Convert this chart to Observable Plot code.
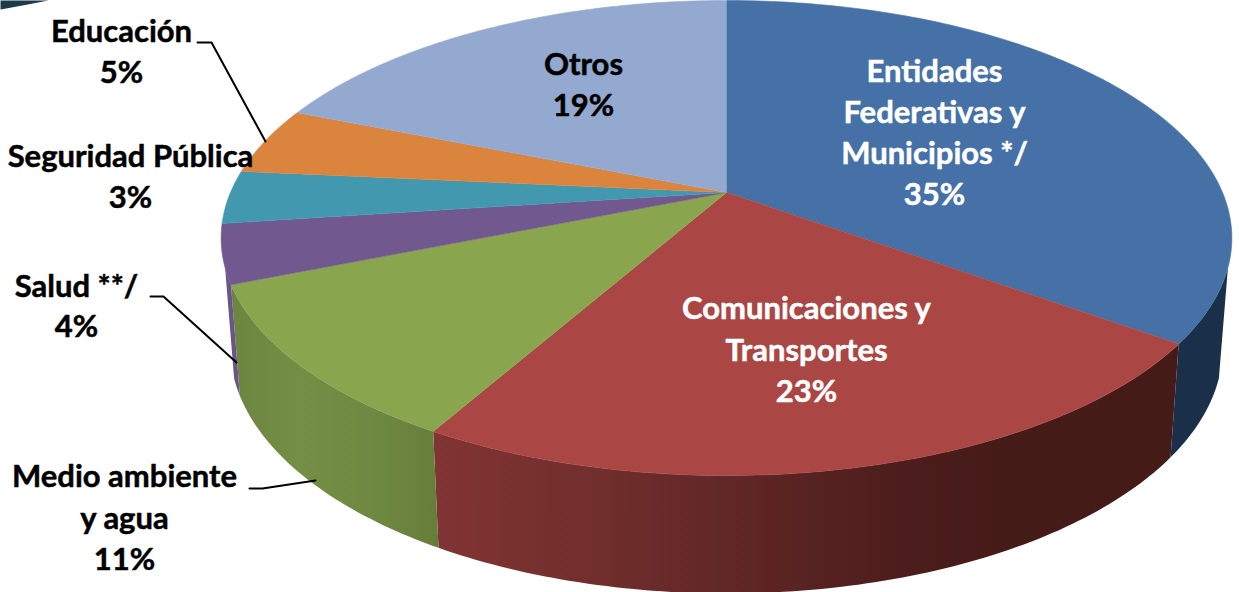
<!DOCTYPE html>
<html><head><meta charset="utf-8">
<script src="https://cdn.jsdelivr.net/npm/d3@7"></script>
<script src="https://cdn.jsdelivr.net/npm/@observablehq/plot@0.6"></script>
<style>html,body{margin:0;padding:0;background:#fff}svg{display:block}</style>
</head><body><div id="chart"></div>
<script>
// Data
const categories = ["Entidades Federativas y Municipios */","Comunicaciones y Transportes","Medio ambiente y agua","Salud **/","Seguridad Pública","Educación","Otros"];
const values = [35,23,11,4,3,5,19];          // printed percentages
const shares = [35,23.2,10.7,4,3.6,4.6,18.9]; // slice sizes
const labelLines = [
  ["Entidades","Federativas y","Municipios */"],
  ["Comunicaciones y","Transportes"],
  ["Medio ambiente","y agua"],
  ["Salud **/"],
  ["Seguridad Pública"],
  ["Educación"],
  ["Otros"]
];
// Styles
const topColors = ["#4571a7","#aa4643","#89a54e","#71588f","#4198af","#db843d","#93a9cf"];
const sideColors = ["#1a2f4a","url(#sideRed)","url(#sideGreen)","#6a5488","#2d6b7c","#9a5c2a","#667a99"];
const labelColors = ["#fff","#fff","#000","#000","#000","#000","#000"];
// Layout: label centres and leader lines, in pixels
const labelPos = [[934,72,41],[806,309,41.5],[124,477,41.5],[76,287,40],[130,157,41],[121,32,41],[583,65,41]];
const leaders = [
  [[197,42],[211,42],[265,141]],
  [[150,296],[163,296],[236,362]],
  [[249,488],[262,488],[315,480]]
];
const cornerSwoosh = [[0,0],[48,0],[22,5],[0,9]];

// Perspective projection of the pie's disc
const cx=726, cy=192, A=496, B=228.8, k=0.1916;
const bottomX=0.982, bottomY=1.035, cyBottom=300;
const rim=(t,sx,sy,c)=>{const X=Math.sin(t),Y=-Math.cos(t),w=1-k*Y;return {x:cx+sx*A*X/w,y:c+sy*B*Y/w};};
const cum=[0]; shares.forEach(v=>cum.push(cum[cum.length-1]+v));
const ang=p=>p/100*2*Math.PI;
const arc=(p0,p1,sx,sy,c)=>{const n=Math.max(8,Math.ceil((p1-p0)*4)),a=ang(p0),b=ang(p1);
  return d3.range(n+1).map(j=>rim(a+(b-a)*j/n,sx,sy,c));};
const topPoly=i=>[{x:cx,y:cy},...arc(cum[i],cum[i+1],1,1,cy)];
// The side wall only exists between the two silhouette tangents (front of the disc)
const frontFrom=30, frontTo=70;
const sidePoly=i=>{
  const p0=Math.max(cum[i],frontFrom),p1=Math.min(cum[i+1],frontTo);
  if(p1<=p0) return null;
  return [...arc(p0,p1,1,1,cy),...arc(p0,p1,bottomX,bottomY,cyBottom).reverse()];
};

const defs=()=>{
  const d=d3.create("svg:defs");
  const grad=(id,stops)=>{
    const g=d.append("linearGradient").attr("id",id).attr("gradientUnits","userSpaceOnUse")
      .attr("x1",stops[0][0]).attr("x2",stops[stops.length-1][0]).attr("y1",0).attr("y2",0);
    const x0=stops[0][0],x1=stops[stops.length-1][0];
    stops.forEach(([x,c])=>g.append("stop").attr("offset",(x-x0)/(x1-x0)).attr("stop-color",c));
  };
  grad("sideRed",[[433,"#813433"],[600,"#702e2c"],[750,"#5e2625"],[900,"#4c1d1c"],[1000,"#451b18"],[1175,"#451b18"]]);
  grad("sideGreen",[[232,"#6c8640"],[300,"#748e45"],[380,"#6f8841"],[442,"#667c3a"]]);
  return d.node();
};

const font="Lato, 'Open Sans', sans-serif";
const marks=[defs];
marks.push(Plot.line(cornerSwoosh,{x:d=>d[0],y:d=>d[1],fill:"#1c3a4a",stroke:"none"}));
values.forEach((v,i)=>{const p=sidePoly(i); if(p) marks.push(Plot.line(p,{x:"x",y:"y",fill:sideColors[i],stroke:"none"}));});
values.forEach((v,i)=>marks.push(Plot.line(topPoly(i),{x:"x",y:"y",fill:topColors[i],stroke:topColors[i],strokeWidth:0.6})));
leaders.forEach(l=>marks.push(Plot.line(l,{x:d=>d[0],y:d=>d[1],stroke:"#000",strokeWidth:2,curve:"linear"})));
categories.forEach((c,i)=>{
  const [x,y,lh]=labelPos[i];
  const lines=[...labelLines[i],values[i]+"%"];
  marks.push(Plot.text(lines,{x:()=>x,y:(d,j)=>y+j*lh,text:d=>d,fill:labelColors[i],stroke:labelColors[i],strokeWidth:0.5,fontSize:31,fontWeight:700,fontFamily:font,textAnchor:"middle",lineAnchor:"middle"}));
});

const chart=Plot.plot({width:1239,height:592,margin:0,
  x:{domain:[0,1239],range:[0,1239],axis:null},
  y:{domain:[0,592],range:[0,592],axis:null},
  style:{background:"#fff"},
  marks});
document.getElementById("chart").append(chart);
</script></body></html>
